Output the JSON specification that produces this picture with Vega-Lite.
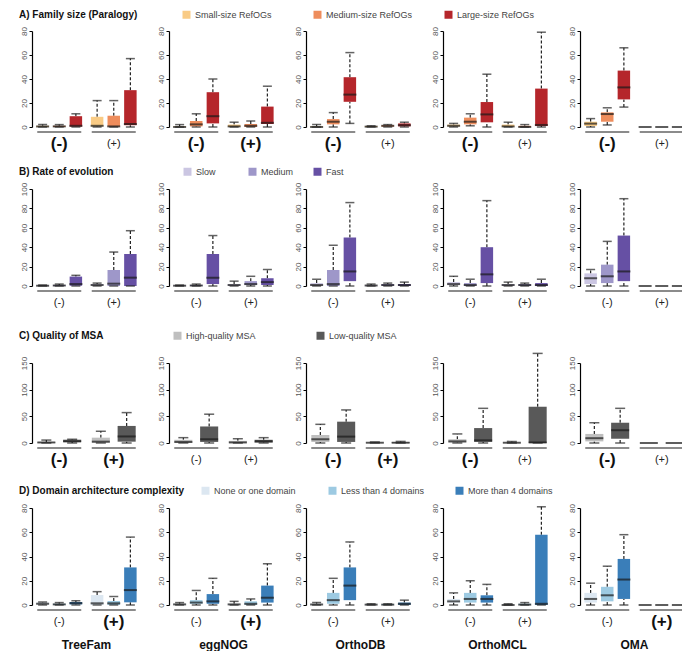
{
"$schema":"https://vega.github.io/schema/vega-lite/v6.json",
"background":"white",
"padding":{"left":8,"top":10,"right":0,"bottom":0},
"datasets":{"all":[
{"r":"A","db":"TreeFam","c":"(-)","k":"Small","lo":0,"q1":0,"md":0.5,"q3":1,"hi":2},
{"r":"A","db":"TreeFam","c":"(-)","k":"Medium","lo":0,"q1":0,"md":0.5,"q3":1,"hi":2},
{"r":"A","db":"TreeFam","c":"(-)","k":"Large","lo":0,"q1":0.3,"md":1,"q3":9,"hi":11},
{"r":"A","db":"TreeFam","c":"(+)","k":"Small","lo":0,"q1":0.5,"md":1,"q3":8.5,"hi":22},
{"r":"A","db":"TreeFam","c":"(+)","k":"Medium","lo":0,"q1":0.3,"md":0.5,"q3":9.4,"hi":22},
{"r":"A","db":"TreeFam","c":"(+)","k":"Large","lo":0,"q1":1.5,"md":2.5,"q3":30.7,"hi":57},
{"r":"A","db":"eggNOG","c":"(-)","k":"Small","lo":0,"q1":0,"md":0,"q3":0.5,"hi":2},
{"r":"A","db":"eggNOG","c":"(-)","k":"Medium","lo":0,"q1":0.5,"md":2.2,"q3":5,"hi":11},
{"r":"A","db":"eggNOG","c":"(-)","k":"Large","lo":0,"q1":3,"md":9,"q3":29,"hi":40},
{"r":"A","db":"eggNOG","c":"(+)","k":"Small","lo":0,"q1":0,"md":0.5,"q3":2,"hi":4},
{"r":"A","db":"eggNOG","c":"(+)","k":"Medium","lo":0,"q1":0,"md":1,"q3":2.5,"hi":5},
{"r":"A","db":"eggNOG","c":"(+)","k":"Large","lo":0,"q1":2.5,"md":3.5,"q3":17,"hi":34},
{"r":"A","db":"OrthoDB","c":"(-)","k":"Small","lo":0,"q1":0,"md":0,"q3":0.5,"hi":2},
{"r":"A","db":"OrthoDB","c":"(-)","k":"Medium","lo":0,"q1":2.2,"md":4.4,"q3":6.6,"hi":12},
{"r":"A","db":"OrthoDB","c":"(-)","k":"Large","lo":3,"q1":21,"md":27,"q3":41.5,"hi":62},
{"r":"A","db":"OrthoDB","c":"(+)","k":"Small","lo":0,"q1":0,"md":0.3,"q3":0.8,"hi":1},
{"r":"A","db":"OrthoDB","c":"(+)","k":"Medium","lo":0,"q1":0.3,"md":1,"q3":1.5,"hi":2},
{"r":"A","db":"OrthoDB","c":"(+)","k":"Large","lo":0,"q1":0.5,"md":1.5,"q3":3,"hi":4},
{"r":"A","db":"OrthoMCL","c":"(-)","k":"Small","lo":0,"q1":0.5,"md":1,"q3":2,"hi":3},
{"r":"A","db":"OrthoMCL","c":"(-)","k":"Medium","lo":1,"q1":2.2,"md":4.4,"q3":7.8,"hi":11},
{"r":"A","db":"OrthoMCL","c":"(-)","k":"Large","lo":0,"q1":3.9,"md":10.5,"q3":20.8,"hi":44},
{"r":"A","db":"OrthoMCL","c":"(+)","k":"Small","lo":0,"q1":0,"md":0.5,"q3":2,"hi":4},
{"r":"A","db":"OrthoMCL","c":"(+)","k":"Medium","lo":0,"q1":0,"md":0,"q3":1,"hi":2},
{"r":"A","db":"OrthoMCL","c":"(+)","k":"Large","lo":0,"q1":0.8,"md":1.7,"q3":32,"hi":79},
{"r":"A","db":"OMA","c":"(-)","k":"Small","lo":0,"q1":0.8,"md":2.8,"q3":4.4,"hi":7},
{"r":"A","db":"OMA","c":"(-)","k":"Medium","lo":1.7,"q1":4.4,"md":10.8,"q3":12.2,"hi":16},
{"r":"A","db":"OMA","c":"(-)","k":"Large","lo":16.6,"q1":23,"md":33,"q3":47,"hi":66},
{"r":"A","db":"OMA","c":"(+)","k":"Small","lo":0,"q1":0,"md":0,"q3":0,"hi":0},
{"r":"A","db":"OMA","c":"(+)","k":"Medium","lo":0,"q1":0,"md":0,"q3":0,"hi":0},
{"r":"A","db":"OMA","c":"(+)","k":"Large","lo":0,"q1":0,"md":0,"q3":0,"hi":0},
{"r":"B","db":"TreeFam","c":"(-)","k":"Slow","lo":0,"q1":0,"md":0.3,"q3":1,"hi":1},
{"r":"B","db":"TreeFam","c":"(-)","k":"Medium","lo":0,"q1":0,"md":0.5,"q3":1,"hi":2},
{"r":"B","db":"TreeFam","c":"(-)","k":"Fast","lo":0,"q1":0.3,"md":2,"q3":9.7,"hi":11},
{"r":"B","db":"TreeFam","c":"(+)","k":"Slow","lo":0,"q1":0.5,"md":1,"q3":2,"hi":3},
{"r":"B","db":"TreeFam","c":"(+)","k":"Medium","lo":0,"q1":0,"md":2.4,"q3":16.5,"hi":35},
{"r":"B","db":"TreeFam","c":"(+)","k":"Fast","lo":0,"q1":0,"md":8.6,"q3":33,"hi":57},
{"r":"B","db":"eggNOG","c":"(-)","k":"Slow","lo":0,"q1":0,"md":0.3,"q3":1,"hi":1},
{"r":"B","db":"eggNOG","c":"(-)","k":"Medium","lo":0,"q1":0,"md":0.5,"q3":1,"hi":2},
{"r":"B","db":"eggNOG","c":"(-)","k":"Fast","lo":0,"q1":2,"md":8.5,"q3":33,"hi":52},
{"r":"B","db":"eggNOG","c":"(+)","k":"Slow","lo":0,"q1":0,"md":1,"q3":2,"hi":5},
{"r":"B","db":"eggNOG","c":"(+)","k":"Medium","lo":0,"q1":1,"md":2,"q3":5,"hi":10},
{"r":"B","db":"eggNOG","c":"(+)","k":"Fast","lo":0,"q1":1,"md":4,"q3":8,"hi":17},
{"r":"B","db":"OrthoDB","c":"(-)","k":"Slow","lo":0,"q1":0,"md":1,"q3":3,"hi":7},
{"r":"B","db":"OrthoDB","c":"(-)","k":"Medium","lo":0,"q1":0,"md":2,"q3":16.5,"hi":42},
{"r":"B","db":"OrthoDB","c":"(-)","k":"Fast","lo":0,"q1":5,"md":15,"q3":50,"hi":86},
{"r":"B","db":"OrthoDB","c":"(+)","k":"Slow","lo":0,"q1":0,"md":0.5,"q3":1,"hi":2},
{"r":"B","db":"OrthoDB","c":"(+)","k":"Medium","lo":0,"q1":0,"md":1,"q3":2,"hi":3},
{"r":"B","db":"OrthoDB","c":"(+)","k":"Fast","lo":0,"q1":0,"md":1,"q3":2,"hi":4},
{"r":"B","db":"OrthoMCL","c":"(-)","k":"Slow","lo":0,"q1":1,"md":2,"q3":4,"hi":10},
{"r":"B","db":"OrthoMCL","c":"(-)","k":"Medium","lo":0,"q1":0,"md":1,"q3":3,"hi":7},
{"r":"B","db":"OrthoMCL","c":"(-)","k":"Fast","lo":0,"q1":3,"md":12,"q3":40,"hi":88},
{"r":"B","db":"OrthoMCL","c":"(+)","k":"Slow","lo":0,"q1":0,"md":1,"q3":2,"hi":4},
{"r":"B","db":"OrthoMCL","c":"(+)","k":"Medium","lo":0,"q1":0,"md":1,"q3":2,"hi":3},
{"r":"B","db":"OrthoMCL","c":"(+)","k":"Fast","lo":0,"q1":0,"md":1,"q3":3,"hi":7},
{"r":"B","db":"OMA","c":"(-)","k":"Slow","lo":0,"q1":2,"md":8,"q3":13,"hi":17},
{"r":"B","db":"OMA","c":"(-)","k":"Medium","lo":0,"q1":3,"md":10,"q3":22,"hi":46},
{"r":"B","db":"OMA","c":"(-)","k":"Fast","lo":0,"q1":5,"md":15,"q3":52,"hi":90},
{"r":"B","db":"OMA","c":"(+)","k":"Slow","lo":0,"q1":0,"md":0,"q3":0,"hi":0},
{"r":"B","db":"OMA","c":"(+)","k":"Medium","lo":0,"q1":0,"md":0,"q3":0,"hi":0},
{"r":"B","db":"OMA","c":"(+)","k":"Fast","lo":0,"q1":0,"md":0,"q3":0,"hi":0},
{"r":"C","db":"TreeFam","c":"(-)","k":"High","lo":0,"q1":0,"md":1,"q3":2,"hi":5.5},
{"r":"C","db":"TreeFam","c":"(-)","k":"Low","lo":0,"q1":1.8,"md":3,"q3":6.2,"hi":7},
{"r":"C","db":"TreeFam","c":"(+)","k":"High","lo":0,"q1":0.6,"md":2.5,"q3":10,"hi":22},
{"r":"C","db":"TreeFam","c":"(+)","k":"Low","lo":0,"q1":2.5,"md":12.3,"q3":32,"hi":57},
{"r":"C","db":"eggNOG","c":"(-)","k":"High","lo":0,"q1":0,"md":2,"q3":6,"hi":10},
{"r":"C","db":"eggNOG","c":"(-)","k":"Low","lo":0,"q1":2,"md":7,"q3":31,"hi":54},
{"r":"C","db":"eggNOG","c":"(+)","k":"High","lo":0,"q1":0,"md":1,"q3":4,"hi":8},
{"r":"C","db":"eggNOG","c":"(+)","k":"Low","lo":0,"q1":1,"md":3,"q3":6,"hi":10},
{"r":"C","db":"OrthoDB","c":"(-)","k":"High","lo":0,"q1":2,"md":7,"q3":15,"hi":35},
{"r":"C","db":"OrthoDB","c":"(-)","k":"Low","lo":0,"q1":2,"md":12,"q3":40,"hi":62},
{"r":"C","db":"OrthoDB","c":"(+)","k":"High","lo":0,"q1":0,"md":0.5,"q3":1,"hi":2},
{"r":"C","db":"OrthoDB","c":"(+)","k":"Low","lo":0,"q1":0,"md":0.5,"q3":1,"hi":3},
{"r":"C","db":"OrthoMCL","c":"(-)","k":"High","lo":0,"q1":1,"md":3,"q3":7,"hi":17},
{"r":"C","db":"OrthoMCL","c":"(-)","k":"Low","lo":0,"q1":2,"md":5,"q3":28,"hi":65},
{"r":"C","db":"OrthoMCL","c":"(+)","k":"High","lo":0,"q1":0,"md":0.5,"q3":1,"hi":3},
{"r":"C","db":"OrthoMCL","c":"(+)","k":"Low","lo":0,"q1":0,"md":1,"q3":68,"hi":168},
{"r":"C","db":"OMA","c":"(-)","k":"High","lo":0,"q1":3,"md":9,"q3":17,"hi":38},
{"r":"C","db":"OMA","c":"(-)","k":"Low","lo":0,"q1":8,"md":24,"q3":38,"hi":65},
{"r":"C","db":"OMA","c":"(+)","k":"High","lo":0,"q1":0,"md":0,"q3":0,"hi":0},
{"r":"C","db":"OMA","c":"(+)","k":"Low","lo":0,"q1":0,"md":0,"q3":0,"hi":0},
{"r":"D","db":"TreeFam","c":"(-)","k":"None","lo":0,"q1":0.5,"md":1,"q3":2,"hi":2.5},
{"r":"D","db":"TreeFam","c":"(-)","k":"Less","lo":0,"q1":0,"md":0.5,"q3":1,"hi":2},
{"r":"D","db":"TreeFam","c":"(-)","k":"More","lo":0,"q1":0.5,"md":1.5,"q3":2.5,"hi":3.5},
{"r":"D","db":"TreeFam","c":"(+)","k":"None","lo":0,"q1":0,"md":1.4,"q3":8.2,"hi":11},
{"r":"D","db":"TreeFam","c":"(+)","k":"Less","lo":0,"q1":0,"md":1.4,"q3":3.3,"hi":7},
{"r":"D","db":"TreeFam","c":"(+)","k":"More","lo":0,"q1":2.2,"md":12.3,"q3":31,"hi":56},
{"r":"D","db":"eggNOG","c":"(-)","k":"None","lo":0,"q1":0,"md":0.5,"q3":1,"hi":2},
{"r":"D","db":"eggNOG","c":"(-)","k":"Less","lo":0,"q1":1,"md":2,"q3":4,"hi":12},
{"r":"D","db":"eggNOG","c":"(-)","k":"More","lo":0,"q1":1,"md":3,"q3":9,"hi":22},
{"r":"D","db":"eggNOG","c":"(+)","k":"None","lo":0,"q1":0,"md":0.5,"q3":1,"hi":3},
{"r":"D","db":"eggNOG","c":"(+)","k":"Less","lo":0,"q1":0,"md":1,"q3":3,"hi":5},
{"r":"D","db":"eggNOG","c":"(+)","k":"More","lo":0,"q1":2,"md":6,"q3":16,"hi":34},
{"r":"D","db":"OrthoDB","c":"(-)","k":"None","lo":0,"q1":0,"md":0.5,"q3":1,"hi":2},
{"r":"D","db":"OrthoDB","c":"(-)","k":"Less","lo":0,"q1":1,"md":4,"q3":10,"hi":22},
{"r":"D","db":"OrthoDB","c":"(-)","k":"More","lo":0,"q1":4,"md":16,"q3":31,"hi":52},
{"r":"D","db":"OrthoDB","c":"(+)","k":"None","lo":0,"q1":0,"md":0.3,"q3":0.7,"hi":1},
{"r":"D","db":"OrthoDB","c":"(+)","k":"Less","lo":0,"q1":0,"md":0.3,"q3":0.7,"hi":1},
{"r":"D","db":"OrthoDB","c":"(+)","k":"More","lo":0,"q1":0,"md":1,"q3":2,"hi":4},
{"r":"D","db":"OrthoMCL","c":"(-)","k":"None","lo":0,"q1":2,"md":3,"q3":5,"hi":10},
{"r":"D","db":"OrthoMCL","c":"(-)","k":"Less","lo":0,"q1":2,"md":5,"q3":10,"hi":20},
{"r":"D","db":"OrthoMCL","c":"(-)","k":"More","lo":0,"q1":2,"md":5,"q3":8,"hi":17},
{"r":"D","db":"OrthoMCL","c":"(+)","k":"None","lo":0,"q1":0,"md":0,"q3":0.5,"hi":1},
{"r":"D","db":"OrthoMCL","c":"(+)","k":"Less","lo":0,"q1":0,"md":0.3,"q3":1,"hi":2},
{"r":"D","db":"OrthoMCL","c":"(+)","k":"More","lo":0,"q1":0,"md":1,"q3":58,"hi":81},
{"r":"D","db":"OMA","c":"(-)","k":"None","lo":0,"q1":2,"md":5,"q3":10,"hi":18},
{"r":"D","db":"OMA","c":"(-)","k":"Less","lo":0,"q1":3,"md":8,"q3":15,"hi":32},
{"r":"D","db":"OMA","c":"(-)","k":"More","lo":0,"q1":5,"md":21,"q3":38,"hi":58},
{"r":"D","db":"OMA","c":"(+)","k":"None","lo":0,"q1":0,"md":0,"q3":0,"hi":0},
{"r":"D","db":"OMA","c":"(+)","k":"Less","lo":0,"q1":0,"md":0,"q3":0,"hi":0},
{"r":"D","db":"OMA","c":"(+)","k":"More","lo":0,"q1":0,"md":0,"q3":0,"hi":0},
{"r":"A","db":"TreeFam","c":"(-)","g":1,"sig":"y"},{"r":"A","db":"TreeFam","c":"(+)","g":1,"sig":"n"},
{"r":"A","db":"eggNOG","c":"(-)","g":1,"sig":"y"},{"r":"A","db":"eggNOG","c":"(+)","g":1,"sig":"y"},
{"r":"A","db":"OrthoDB","c":"(-)","g":1,"sig":"y"},{"r":"A","db":"OrthoDB","c":"(+)","g":1,"sig":"n"},
{"r":"A","db":"OrthoMCL","c":"(-)","g":1,"sig":"y"},{"r":"A","db":"OrthoMCL","c":"(+)","g":1,"sig":"n"},
{"r":"A","db":"OMA","c":"(-)","g":1,"sig":"y"},{"r":"A","db":"OMA","c":"(+)","g":1,"sig":"n"},
{"r":"B","db":"TreeFam","c":"(-)","g":1,"sig":"n"},{"r":"B","db":"TreeFam","c":"(+)","g":1,"sig":"n"},
{"r":"B","db":"eggNOG","c":"(-)","g":1,"sig":"n"},{"r":"B","db":"eggNOG","c":"(+)","g":1,"sig":"n"},
{"r":"B","db":"OrthoDB","c":"(-)","g":1,"sig":"n"},{"r":"B","db":"OrthoDB","c":"(+)","g":1,"sig":"n"},
{"r":"B","db":"OrthoMCL","c":"(-)","g":1,"sig":"n"},{"r":"B","db":"OrthoMCL","c":"(+)","g":1,"sig":"n"},
{"r":"B","db":"OMA","c":"(-)","g":1,"sig":"n"},{"r":"B","db":"OMA","c":"(+)","g":1,"sig":"n"},
{"r":"C","db":"TreeFam","c":"(-)","g":1,"sig":"y"},{"r":"C","db":"TreeFam","c":"(+)","g":1,"sig":"y"},
{"r":"C","db":"eggNOG","c":"(-)","g":1,"sig":"n"},{"r":"C","db":"eggNOG","c":"(+)","g":1,"sig":"n"},
{"r":"C","db":"OrthoDB","c":"(-)","g":1,"sig":"y"},{"r":"C","db":"OrthoDB","c":"(+)","g":1,"sig":"y"},
{"r":"C","db":"OrthoMCL","c":"(-)","g":1,"sig":"y"},{"r":"C","db":"OrthoMCL","c":"(+)","g":1,"sig":"n"},
{"r":"C","db":"OMA","c":"(-)","g":1,"sig":"y"},{"r":"C","db":"OMA","c":"(+)","g":1,"sig":"n"},
{"r":"D","db":"TreeFam","c":"(-)","g":1,"sig":"n"},{"r":"D","db":"TreeFam","c":"(+)","g":1,"sig":"y"},
{"r":"D","db":"eggNOG","c":"(-)","g":1,"sig":"n"},{"r":"D","db":"eggNOG","c":"(+)","g":1,"sig":"y"},
{"r":"D","db":"OrthoDB","c":"(-)","g":1,"sig":"n"},{"r":"D","db":"OrthoDB","c":"(+)","g":1,"sig":"n"},
{"r":"D","db":"OrthoMCL","c":"(-)","g":1,"sig":"n"},{"r":"D","db":"OrthoMCL","c":"(+)","g":1,"sig":"n"},
{"r":"D","db":"OMA","c":"(-)","g":1,"sig":"n"},{"r":"D","db":"OMA","c":"(+)","g":1,"sig":"y"}
]},
"vconcat":[
{
"data":{"name":"all"},
"transform":[{"filter":"datum.r=='A'"}],
"facet":{"column":{"field":"db","type":"nominal","sort":["TreeFam","eggNOG","OrthoDB","OrthoMCL","OMA"],"title":null,"header":{"labels":false}}},
"spacing":{"column":16},
"resolve":{"axis":{"y":"independent"}},
"spec":{
"width":109,"height":96,
"encoding":{"x":{"field":"c","type":"nominal","scale":{"domain":["(-)","(+)"],"paddingInner":0.1,"paddingOuter":0.05},"axis":null}},
"layer":[
{"transform":[{"filter":"datum.k"}],"mark":{"type":"rule","color":"#222","strokeDash":[3,2],"strokeWidth":1.2},
"encoding":{"xOffset":{"field":"k","type":"nominal","scale":{"domain":["Small","Medium","Large"],"paddingInner":0.25,"paddingOuter":0.1}},
"y":{"field":"lo","type":"quantitative","scale":{"domain":[0,80],"nice":false,"zero":false},"axis":{"values":[0,20,40,60,80],"labelOverlap":false},"title":null},"y2":{"field":"q1"}}},
{"transform":[{"filter":"datum.k"}],"mark":{"type":"rule","color":"#222","strokeDash":[3,2],"strokeWidth":1.2},
"encoding":{"xOffset":{"field":"k","type":"nominal"},"y":{"field":"q3","type":"quantitative","title":null,"axis":{"values":[0,20,40,60,80],"labelOverlap":false}},"y2":{"field":"hi"}}},
{"transform":[{"filter":"datum.k"}],"mark":{"type":"bar"},
"encoding":{"xOffset":{"field":"k","type":"nominal"},"y":{"field":"q1","type":"quantitative","title":null,"axis":{"values":[0,20,40,60,80],"labelOverlap":false}},"y2":{"field":"q3"},
"color":{"field":"k","type":"nominal","title":"A) Family size (Paralogy)","scale":{"domain":["Small","Medium","Large"],"range":["#F9CB85","#EE8D5C","#B5262B"]},
"legend":{"orient":"none","legendX":-13,"legendY":-21,"direction":"horizontal","columns":3,"gridAlign":"all","columnPadding":31,"titlePadding":44,"labelExpr":"datum.label + '-size RefOGs'"}}}},
{"transform":[{"filter":"datum.k"}],"mark":{"type":"tick","orient":"horizontal","color":"#1a1a1a","thickness":2,"size":13},
"encoding":{"xOffset":{"field":"k","type":"nominal"},"y":{"field":"md","type":"quantitative","title":null,"axis":{"values":[0,20,40,60,80],"labelOverlap":false}}}},
{"transform":[{"filter":"datum.k && datum.hi > 0"}],"mark":{"type":"tick","orient":"horizontal","color":"#222","thickness":1.5,"size":9},
"encoding":{"xOffset":{"field":"k","type":"nominal"},"y":{"field":"lo","type":"quantitative","title":null,"axis":{"values":[0,20,40,60,80],"labelOverlap":false}}}},
{"transform":[{"filter":"datum.k && datum.hi > 0"}],"mark":{"type":"tick","orient":"horizontal","color":"#222","thickness":1.5,"size":9},
"encoding":{"xOffset":{"field":"k","type":"nominal"},"y":{"field":"hi","type":"quantitative","title":null,"axis":{"values":[0,20,40,60,80],"labelOverlap":false}}}},
{"transform":[{"filter":"datum.g"}],"mark":{"type":"tick","orient":"horizontal","color":"#222","thickness":1.5,"size":44,"yOffset":5},
"encoding":{"y":{"datum":0,"axis":{"values":[0,20,40,60,80],"labelOverlap":false}}}},
{"transform":[{"filter":"datum.sig=='y'"}],"mark":{"type":"text","fontSize":17,"fontWeight":"bold","yOffset":17,"color":"#111"},
"encoding":{"y":{"datum":0,"axis":{"values":[0,20,40,60,80],"labelOverlap":false}},"text":{"field":"c"}}},
{"transform":[{"filter":"datum.sig=='n'"}],"mark":{"type":"text","fontSize":11,"yOffset":17,"color":"#222"},
"encoding":{"y":{"datum":0,"axis":{"values":[0,20,40,60,80],"labelOverlap":false}},"text":{"field":"c"}}}
]}
},
{
"data":{"name":"all"},
"transform":[{"filter":"datum.r=='B'"}],
"facet":{"column":{"field":"db","type":"nominal","sort":["TreeFam","eggNOG","OrthoDB","OrthoMCL","OMA"],"title":null,"header":{"labels":false}}},
"spacing":{"column":16},
"resolve":{"axis":{"y":"independent"}},
"spec":{
"width":109,"height":97,
"encoding":{"x":{"field":"c","type":"nominal","scale":{"domain":["(-)","(+)"],"paddingInner":0.1,"paddingOuter":0.05},"axis":null}},
"layer":[
{"transform":[{"filter":"datum.k"}],"mark":{"type":"rule","color":"#222","strokeDash":[3,2],"strokeWidth":1.2},
"encoding":{"xOffset":{"field":"k","type":"nominal","scale":{"domain":["Slow","Medium","Fast"],"paddingInner":0.25,"paddingOuter":0.1}},
"y":{"field":"lo","type":"quantitative","scale":{"domain":[0,100],"nice":false,"zero":false},"axis":{"values":[0,20,40,60,80,100],"labelOverlap":false},"title":null},"y2":{"field":"q1"}}},
{"transform":[{"filter":"datum.k"}],"mark":{"type":"rule","color":"#222","strokeDash":[3,2],"strokeWidth":1.2},
"encoding":{"xOffset":{"field":"k","type":"nominal"},"y":{"field":"q3","type":"quantitative","title":null,"axis":{"values":[0,20,40,60,80,100],"labelOverlap":false}},"y2":{"field":"hi"}}},
{"transform":[{"filter":"datum.k"}],"mark":{"type":"bar"},
"encoding":{"xOffset":{"field":"k","type":"nominal"},"y":{"field":"q1","type":"quantitative","title":null,"axis":{"values":[0,20,40,60,80,100],"labelOverlap":false}},"y2":{"field":"q3"},
"color":{"field":"k","type":"nominal","title":"B) Rate of evolution","scale":{"domain":["Slow","Medium","Fast"],"range":["#CBC6E2","#9E97C9","#6650A4"]},
"legend":{"orient":"none","legendX":-16,"legendY":-25,"padding":3,"direction":"horizontal","columns":3,"gridAlign":"all","columnPadding":19,"titlePadding":69}}}},
{"transform":[{"filter":"datum.k"}],"mark":{"type":"tick","orient":"horizontal","color":"#1a1a1a","thickness":2,"size":13},
"encoding":{"xOffset":{"field":"k","type":"nominal"},"y":{"field":"md","type":"quantitative","title":null,"axis":{"values":[0,20,40,60,80,100],"labelOverlap":false}}}},
{"transform":[{"filter":"datum.k && datum.hi > 0"}],"mark":{"type":"tick","orient":"horizontal","color":"#222","thickness":1.5,"size":9},
"encoding":{"xOffset":{"field":"k","type":"nominal"},"y":{"field":"lo","type":"quantitative","title":null,"axis":{"values":[0,20,40,60,80,100],"labelOverlap":false}}}},
{"transform":[{"filter":"datum.k && datum.hi > 0"}],"mark":{"type":"tick","orient":"horizontal","color":"#222","thickness":1.5,"size":9},
"encoding":{"xOffset":{"field":"k","type":"nominal"},"y":{"field":"hi","type":"quantitative","title":null,"axis":{"values":[0,20,40,60,80,100],"labelOverlap":false}}}},
{"transform":[{"filter":"datum.g"}],"mark":{"type":"tick","orient":"horizontal","color":"#222","thickness":1.5,"size":44,"yOffset":5},
"encoding":{"y":{"datum":0,"axis":{"values":[0,20,40,60,80,100],"labelOverlap":false}}}},
{"transform":[{"filter":"datum.sig=='y'"}],"mark":{"type":"text","fontSize":17,"fontWeight":"bold","yOffset":17,"color":"#111"},
"encoding":{"y":{"datum":0,"axis":{"values":[0,20,40,60,80,100],"labelOverlap":false}},"text":{"field":"c"}}},
{"transform":[{"filter":"datum.sig=='n'"}],"mark":{"type":"text","fontSize":11,"yOffset":17,"color":"#222"},
"encoding":{"y":{"datum":0,"axis":{"values":[0,20,40,60,80,100],"labelOverlap":false}},"text":{"field":"c"}}}
]}
},
{
"data":{"name":"all"},
"transform":[{"filter":"datum.r=='C'"}],
"facet":{"column":{"field":"db","type":"nominal","sort":["TreeFam","eggNOG","OrthoDB","OrthoMCL","OMA"],"title":null,"header":{"labels":false}}},
"spacing":{"column":16},
"resolve":{"axis":{"y":"independent"}},
"spec":{
"width":109,"height":80,
"encoding":{"x":{"field":"c","type":"nominal","scale":{"domain":["(-)","(+)"],"paddingInner":0.1,"paddingOuter":0.05},"axis":null}},
"layer":[
{"transform":[{"filter":"datum.k"}],"mark":{"type":"rule","color":"#222","strokeDash":[3,2],"strokeWidth":1.2},
"encoding":{"xOffset":{"field":"k","type":"nominal","scale":{"domain":["High","Low"],"paddingInner":0.3,"paddingOuter":0.1}},
"y":{"field":"lo","type":"quantitative","scale":{"domain":[0,150],"nice":false,"zero":false},"axis":{"values":[0,50,100,150],"labelOverlap":false},"title":null},"y2":{"field":"q1"}}},
{"transform":[{"filter":"datum.k"}],"mark":{"type":"rule","color":"#222","strokeDash":[3,2],"strokeWidth":1.2},
"encoding":{"xOffset":{"field":"k","type":"nominal"},"y":{"field":"q3","type":"quantitative","title":null,"axis":{"values":[0,50,100,150],"labelOverlap":false}},"y2":{"field":"hi"}}},
{"transform":[{"filter":"datum.k"}],"mark":{"type":"bar"},
"encoding":{"xOffset":{"field":"k","type":"nominal"},"y":{"field":"q1","type":"quantitative","title":null,"axis":{"values":[0,50,100,150],"labelOverlap":false}},"y2":{"field":"q3"},
"color":{"field":"k","type":"nominal","title":"C) Quality of MSA","scale":{"domain":["High","Low"],"range":["#BFBFBF","#595959"]},
"legend":{"orient":"none","legendX":-24,"legendY":-43,"padding":11,"direction":"horizontal","columns":2,"gridAlign":"all","columnPadding":60,"titlePadding":69,"labelExpr":"datum.label + '-quality MSA'"}}}},
{"transform":[{"filter":"datum.k"}],"mark":{"type":"tick","orient":"horizontal","color":"#1a1a1a","thickness":2,"size":18},
"encoding":{"xOffset":{"field":"k","type":"nominal"},"y":{"field":"md","type":"quantitative","title":null,"axis":{"values":[0,50,100,150],"labelOverlap":false}}}},
{"transform":[{"filter":"datum.k && datum.hi > 0"}],"mark":{"type":"tick","orient":"horizontal","color":"#222","thickness":1.5,"size":10},
"encoding":{"xOffset":{"field":"k","type":"nominal"},"y":{"field":"lo","type":"quantitative","title":null,"axis":{"values":[0,50,100,150],"labelOverlap":false}}}},
{"transform":[{"filter":"datum.k && datum.hi > 0"}],"mark":{"type":"tick","orient":"horizontal","color":"#222","thickness":1.5,"size":10},
"encoding":{"xOffset":{"field":"k","type":"nominal"},"y":{"field":"hi","type":"quantitative","title":null,"axis":{"values":[0,50,100,150],"labelOverlap":false}}}},
{"transform":[{"filter":"datum.g"}],"mark":{"type":"tick","orient":"horizontal","color":"#222","thickness":1.5,"size":44,"yOffset":5},
"encoding":{"y":{"datum":0,"axis":{"values":[0,50,100,150],"labelOverlap":false}}}},
{"transform":[{"filter":"datum.sig=='y'"}],"mark":{"type":"text","fontSize":17,"fontWeight":"bold","yOffset":17,"color":"#111"},
"encoding":{"y":{"datum":0,"axis":{"values":[0,50,100,150],"labelOverlap":false}},"text":{"field":"c"}}},
{"transform":[{"filter":"datum.sig=='n'"}],"mark":{"type":"text","fontSize":11,"yOffset":17,"color":"#222"},
"encoding":{"y":{"datum":0,"axis":{"values":[0,50,100,150],"labelOverlap":false}},"text":{"field":"c"}}}
]}
},
{
"data":{"name":"all"},
"transform":[{"filter":"datum.r=='D'"}],
"facet":{"column":{"field":"db","type":"nominal","sort":["TreeFam","eggNOG","OrthoDB","OrthoMCL","OMA"],"title":null,"header":{"labelOrient":"bottom","labelFontWeight":"bold","labelFontSize":12,"labelColor":"#111","labelPadding":10}}},
"spacing":{"column":16},
"resolve":{"axis":{"y":"independent"}},
"spec":{
"width":109,"height":97,
"encoding":{"x":{"field":"c","type":"nominal","scale":{"domain":["(-)","(+)"],"paddingInner":0.1,"paddingOuter":0.05},"axis":null}},
"layer":[
{"transform":[{"filter":"datum.k"}],"mark":{"type":"rule","color":"#222","strokeDash":[3,2],"strokeWidth":1.2},
"encoding":{"xOffset":{"field":"k","type":"nominal","scale":{"domain":["None","Less","More"],"paddingInner":0.25,"paddingOuter":0.1}},
"y":{"field":"lo","type":"quantitative","scale":{"domain":[0,80],"nice":false,"zero":false},"axis":{"values":[0,20,40,60,80],"labelOverlap":false},"title":null},"y2":{"field":"q1"}}},
{"transform":[{"filter":"datum.k"}],"mark":{"type":"rule","color":"#222","strokeDash":[3,2],"strokeWidth":1.2},
"encoding":{"xOffset":{"field":"k","type":"nominal"},"y":{"field":"q3","type":"quantitative","title":null,"axis":{"values":[0,20,40,60,80],"labelOverlap":false}},"y2":{"field":"hi"}}},
{"transform":[{"filter":"datum.k"}],"mark":{"type":"bar"},
"encoding":{"xOffset":{"field":"k","type":"nominal"},"y":{"field":"q1","type":"quantitative","title":null,"axis":{"values":[0,20,40,60,80],"labelOverlap":false}},"y2":{"field":"q3"},
"color":{"field":"k","type":"nominal","title":"D) Domain architecture complexity","scale":{"domain":["None","Less","More"],"range":["#DCE7F1","#9DCAE2","#3A7EB9"]},
"legend":{"orient":"none","legendX":-19,"legendY":-28,"padding":6,"direction":"horizontal","columns":3,"gridAlign":"all","columnPadding":29,"titlePadding":16,"labelExpr":"datum.label=='None' ? 'None or one domain' : datum.label + ' than 4 domains'"}}}},
{"transform":[{"filter":"datum.k"}],"mark":{"type":"tick","orient":"horizontal","color":"#1a1a1a","thickness":2,"size":13},
"encoding":{"xOffset":{"field":"k","type":"nominal"},"y":{"field":"md","type":"quantitative","title":null,"axis":{"values":[0,20,40,60,80],"labelOverlap":false}}}},
{"transform":[{"filter":"datum.k && datum.hi > 0"}],"mark":{"type":"tick","orient":"horizontal","color":"#222","thickness":1.5,"size":9},
"encoding":{"xOffset":{"field":"k","type":"nominal"},"y":{"field":"lo","type":"quantitative","title":null,"axis":{"values":[0,20,40,60,80],"labelOverlap":false}}}},
{"transform":[{"filter":"datum.k && datum.hi > 0"}],"mark":{"type":"tick","orient":"horizontal","color":"#222","thickness":1.5,"size":9},
"encoding":{"xOffset":{"field":"k","type":"nominal"},"y":{"field":"hi","type":"quantitative","title":null,"axis":{"values":[0,20,40,60,80],"labelOverlap":false}}}},
{"transform":[{"filter":"datum.g"}],"mark":{"type":"tick","orient":"horizontal","color":"#222","thickness":1.5,"size":44,"yOffset":5},
"encoding":{"y":{"datum":0,"axis":{"values":[0,20,40,60,80],"labelOverlap":false}}}},
{"transform":[{"filter":"datum.sig=='y'"}],"mark":{"type":"text","fontSize":17,"fontWeight":"bold","yOffset":17,"color":"#111"},
"encoding":{"y":{"datum":0,"axis":{"values":[0,20,40,60,80],"labelOverlap":false}},"text":{"field":"c"}}},
{"transform":[{"filter":"datum.sig=='n'"}],"mark":{"type":"text","fontSize":11,"yOffset":17,"color":"#222"},
"encoding":{"y":{"datum":0,"axis":{"values":[0,20,40,60,80],"labelOverlap":false}},"text":{"field":"c"}}}
]}
}
],
"spacing":12,
"resolve":{"scale":{"color":"independent","x":"independent","y":"independent","xOffset":"independent"},"legend":{"color":"independent"}},
"config":{
"font":"Liberation Sans",
"view":{"stroke":null},
"axisY":{"domainColor":"#000","tickColor":"#000","labelAngle":-90,"labelFontSize":8,"labelColor":"#555","grid":false,"tickSize":3,"domainWidth":1.2,"tickWidth":1,"labelPadding":1,"labelOverlap":false,"labelFlush":false,"title":null},
"legend":{"padding":0,"symbolType":"square","symbolSize":64,"symbolStrokeWidth":0,"labelFontSize":9,"labelColor":"#444","labelOffset":4,"titleOrient":"left","titleFontSize":10,"titleFontWeight":"bold","titleColor":"#111","titleLimit":400,"titleBaseline":"top","titleAnchor":"start"}
}
}
